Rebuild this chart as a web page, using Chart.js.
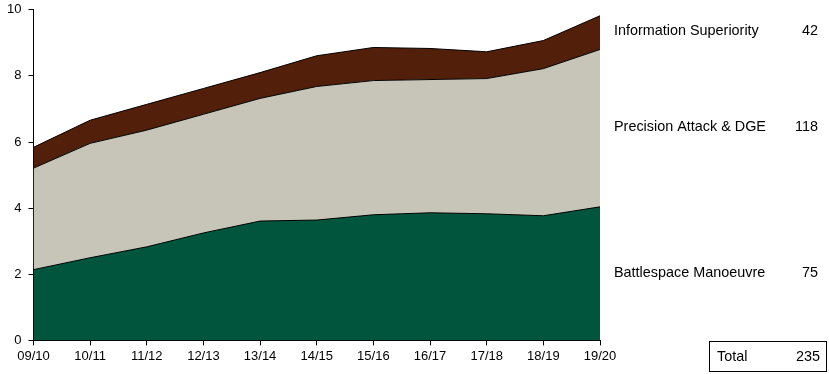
<!DOCTYPE html>
<html>
<head>
<meta charset="utf-8">
<script src="https://cdn.jsdelivr.net/npm/chart.js@4"></script>
<style>
  body { margin: 0; background: #fff; overflow: hidden; }
  #wrap { position: relative; width: 829px; height: 374px; overflow: hidden; }
  #areaChart { position: absolute; left: 0; top: -5px; }
</style>
</head>
<body>
<div id="wrap"><canvas id="areaChart" width="829" height="379"></canvas></div>
<script>
const years = ["09/10", "10/11", "11/12", "12/13", "13/14", "14/15", "15/16", "16/17", "17/18", "18/19", "19/20"];
const battlespace = [2.14, 2.50, 2.83, 3.25, 3.61, 3.64, 3.80, 3.86, 3.83, 3.77, 4.04];
const precision = [3.07, 3.46, 3.53, 3.59, 3.71, 4.04, 4.06, 4.03, 4.09, 4.45, 4.76];
const infoSup = [0.63, 0.70, 0.78, 0.78, 0.78, 0.93, 1.00, 0.94, 0.81, 0.85, 1.02];
const seriesNames = ["Battlespace Manoeuvre", "Precision Attack & DGE", "Information Superiority"];
const seriesTotals = ["75", "118", "42"];
const grandTotal = "235";

const FONT = "Arial, 'Liberation Sans', sans-serif";
const SHIFT = 5; // canvas sits 5px above the page top

// text labels to the right of the plot
const sideLabels = {
    id: 'sideLabels',
    afterDraw(chart) {
        const c = chart.ctx;
        c.save();
        c.translate(0, SHIFT);
        c.fillStyle = '#000';
        c.font = '14.4px ' + FONT;
        c.textBaseline = 'middle';
        const rows = [[seriesNames[2], seriesTotals[2], 31], [seriesNames[1], seriesTotals[1], 127], [seriesNames[0], seriesTotals[0], 273]];
        rows.forEach(r => {
            c.textAlign = 'left';
            c.fillText(r[0], 614, r[2]);
            c.textAlign = 'right';
            c.fillText(r[1], 818, r[2]);
        });
        c.strokeStyle = '#000';
        c.lineWidth = 1;
        c.strokeRect(709.5, 341.5, 117, 30);
        c.textAlign = 'left';
        c.fillText('Total', 717, 357);
        c.textAlign = 'right';
        c.fillText(grandTotal, 820, 357);
        c.restore();
    }
};

const ctx = document.getElementById('areaChart').getContext('2d');
const areaChart = new Chart(ctx, {
    type: 'line',
    data: {
        labels: years,
        datasets: [{
            label: seriesNames[0],
            data: battlespace,
            backgroundColor: '#01553D',
            borderColor: '#000',
            borderWidth: 1,
            fill: 'origin'
        }, {
            label: seriesNames[1],
            data: precision,
            backgroundColor: '#C6C5B7',
            borderColor: '#000',
            borderWidth: 1,
            fill: '-1'
        }, {
            label: seriesNames[2],
            data: infoSup,
            backgroundColor: '#52200A',
            borderColor: '#000',
            borderWidth: 1,
            fill: '-1'
        }]
    },
    options: {
        responsive: false,
        animation: false,
        elements: { point: { radius: 0 }, line: { tension: 0 } },
        layout: { padding: { left: 0, right: 229, top: 0, bottom: 7 } },
        plugins: { legend: { display: false }, tooltip: { enabled: false } },
        scales: {
            x: {
                offset: false,
                grid: { drawOnChartArea: false, drawTicks: true, tickLength: 5, color: '#000' },
                border: { color: '#000' },
                ticks: { color: '#000', font: { family: FONT, size: 13 }, maxRotation: 0, padding: 3 }
            },
            y: {
                stacked: true,
                min: 0,
                max: 10,
                grid: { drawOnChartArea: false, drawTicks: true, tickLength: 5, color: '#000' },
                border: { color: '#000' },
                ticks: { stepSize: 2, color: '#000', font: { family: FONT, size: 13 }, padding: 7 }
            }
        }
    },
    plugins: [sideLabels]
});
</script>
</body>
</html>
